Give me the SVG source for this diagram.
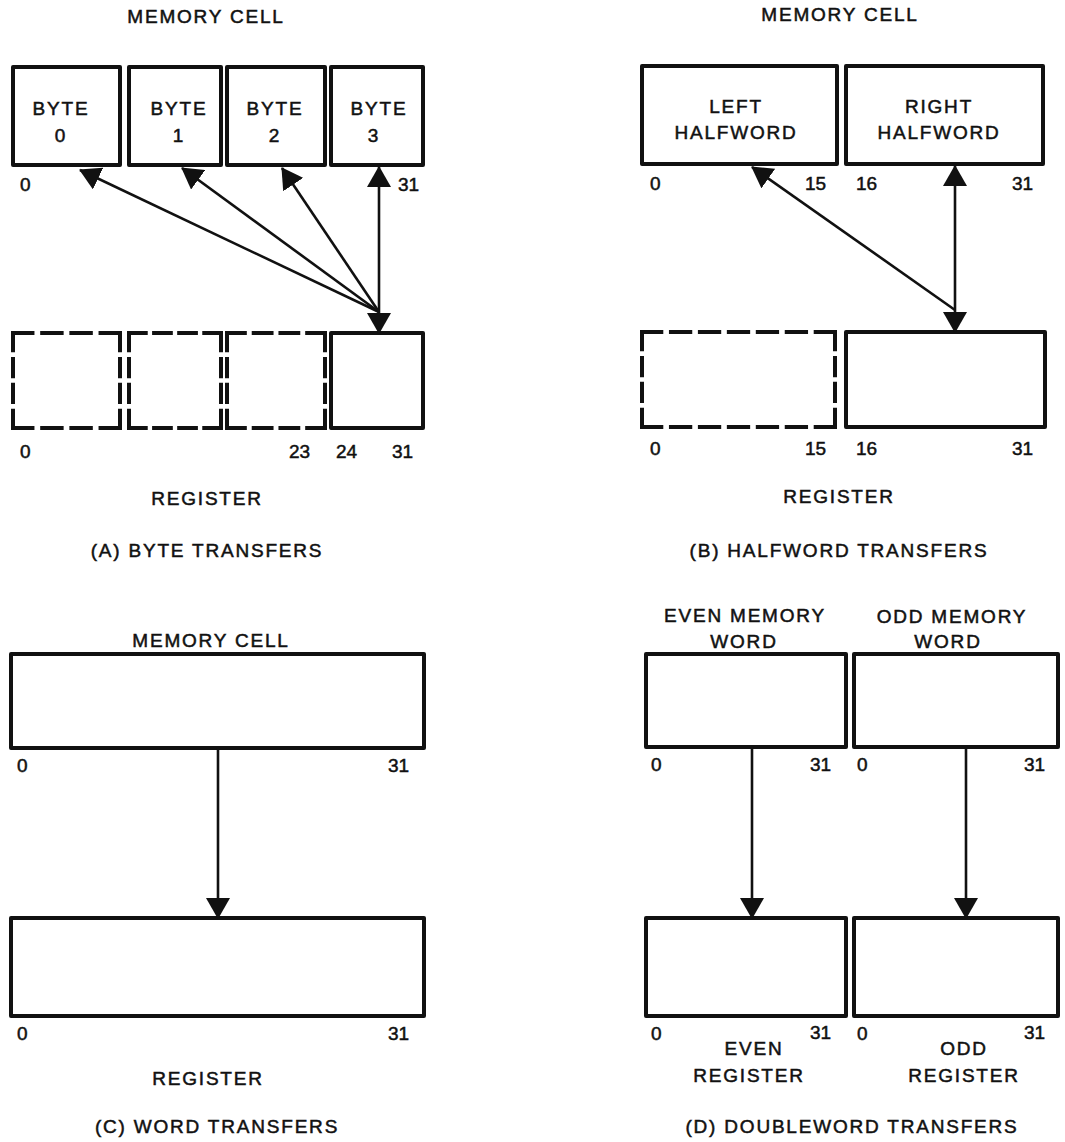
<svg xmlns="http://www.w3.org/2000/svg" width="1065" height="1142" viewBox="0 0 1065 1142">
<defs>
<marker id="ah" markerUnits="userSpaceOnUse" viewBox="0 0 21 24" refX="20" refY="12" markerWidth="21" markerHeight="24" orient="auto-start-reverse">
<path d="M0,0 L21,12 L0,24 Z" fill="#111"/>
</marker>
</defs>
<style>
text{font-family:"Liberation Sans",Arial,Helvetica,sans-serif;font-size:19px;fill:#111;stroke:#111;stroke-width:0.5px;}
.t{letter-spacing:1.8px;text-anchor:middle;}
.n{letter-spacing:0;}
.box{fill:none;stroke:#111;stroke-width:4;stroke-linejoin:round;}
.dash{fill:none;stroke:#111;stroke-width:4;stroke-dasharray:2 1;stroke-linecap:square;}
.c{fill:none;stroke:#111;stroke-width:2.6;}
</style>
<rect width="1065" height="1142" fill="#fff" stroke="none"/>

<!-- Panel A -->
<g id="panelA">
<text class="t" x="206" y="23">MEMORY CELL</text>
<g id="byte0"><rect class="box" x="13" y="67" width="107" height="98"/><text class="t" x="61" y="115">BYTE</text><text class="t" x="61" y="142">0</text></g>
<g id="byte1"><rect class="box" x="129" y="67" width="92" height="98"/><text class="t" x="179" y="115">BYTE</text><text class="t" x="179" y="142">1</text></g>
<g id="byte2"><rect class="box" x="227" y="67" width="98" height="98"/><text class="t" x="275" y="115">BYTE</text><text class="t" x="275" y="142">2</text></g>
<g id="byte3"><rect class="box" x="331" y="67" width="92" height="98"/><text class="t" x="379" y="115">BYTE</text><text class="t" x="374" y="142">3</text></g>
<text class="n" x="20" y="191">0</text>
<text class="n" x="398" y="191">31</text>
<g id="regA0">
<path class="dash" pathLength="11" d="M13,333 H120"/><path class="dash" pathLength="11" d="M13,428 H120"/>
<path class="dash" pathLength="11" d="M13,333 V428"/><path class="dash" pathLength="11" d="M120,333 V428"/>
</g>
<g id="regA1">
<path class="dash" pathLength="11" d="M129,333 H221"/><path class="dash" pathLength="11" d="M129,428 H221"/>
<path class="dash" pathLength="11" d="M129,333 V428"/><path class="dash" pathLength="11" d="M221,333 V428"/>
</g>
<g id="regA2">
<path class="dash" pathLength="11" d="M227,333 H325"/><path class="dash" pathLength="11" d="M227,428 H325"/>
<path class="dash" pathLength="11" d="M227,333 V428"/><path class="dash" pathLength="11" d="M325,333 V428"/>
</g>
<g id="regA3"><rect class="box" x="331" y="333" width="92" height="95"/></g>
<text class="n" x="20" y="458">0</text>
<text class="n" x="289" y="458">23</text>
<text class="n" x="336" y="458">24</text>
<text class="n" x="392" y="458">31</text>
<text class="t" x="207" y="505">REGISTER</text>
<text class="t" x="207" y="557">(A) BYTE TRANSFERS</text>
</g>

<!-- Panel B -->
<g id="panelB">
<text class="t" x="840" y="21">MEMORY CELL</text>
<g id="lefthw"><rect class="box" x="642" y="66" width="195" height="98"/><text class="t" x="736" y="113">LEFT</text><text class="t" x="736" y="139">HALFWORD</text></g>
<g id="righthw"><rect class="box" x="846" y="66" width="197" height="98"/><text class="t" x="939" y="113">RIGHT</text><text class="t" x="939" y="139">HALFWORD</text></g>
<text class="n" x="650" y="190">0</text>
<text class="n" x="805" y="190">15</text>
<text class="n" x="856" y="190">16</text>
<text class="n" x="1012" y="190">31</text>
<g id="regB0">
<path class="dash" pathLength="20" d="M642,332 H835"/><path class="dash" pathLength="20" d="M642,427 H835"/>
<path class="dash" pathLength="11" d="M642,332 V427"/><path class="dash" pathLength="11" d="M835,332 V427"/>
</g>
<g id="regB1"><rect class="box" x="846" y="332" width="199" height="95"/></g>
<text class="n" x="650" y="455">0</text>
<text class="n" x="805" y="455">15</text>
<text class="n" x="856" y="455">16</text>
<text class="n" x="1012" y="455">31</text>
<text class="t" x="839" y="503">REGISTER</text>
<text class="t" x="839" y="557">(B) HALFWORD TRANSFERS</text>
</g>

<!-- Panel C -->
<g id="panelC">
<text class="t" x="211" y="647">MEMORY CELL</text>
<g id="memC"><rect class="box" x="11" y="654" width="413" height="94"/></g>
<text class="n" x="17" y="772">0</text>
<text class="n" x="388" y="772">31</text>
<g id="regC"><rect class="box" x="11" y="918" width="413" height="98"/></g>
<text class="n" x="17" y="1040">0</text>
<text class="n" x="388" y="1040">31</text>
<text class="t" x="208" y="1085">REGISTER</text>
<text class="t" x="217" y="1133">(C) WORD TRANSFERS</text>
</g>

<!-- Panel D -->
<g id="panelD">
<text class="t" x="745" y="622">EVEN MEMORY</text>
<text class="t" x="744" y="648">WORD</text>
<text class="t" x="952" y="623">ODD MEMORY</text>
<text class="t" x="948" y="648">WORD</text>
<g id="evenmem"><rect class="box" x="646" y="654" width="200" height="93"/></g>
<g id="oddmem"><rect class="box" x="854" y="654" width="204" height="93"/></g>
<text class="n" x="651" y="771">0</text>
<text class="n" x="810" y="771">31</text>
<text class="n" x="857" y="771">0</text>
<text class="n" x="1024" y="771">31</text>
<g id="evenreg"><rect class="box" x="646" y="918" width="200" height="98"/></g>
<g id="oddreg"><rect class="box" x="854" y="918" width="204" height="98"/></g>
<text class="n" x="651" y="1040">0</text>
<text class="n" x="810" y="1039">31</text>
<text class="n" x="857" y="1040">0</text>
<text class="n" x="1024" y="1039">31</text>
<text class="t" x="754" y="1055">EVEN</text>
<text class="t" x="749" y="1082">REGISTER</text>
<text class="t" x="964" y="1055">ODD</text>
<text class="t" x="964" y="1082">REGISTER</text>
<text class="t" x="852" y="1133">(D) DOUBLEWORD TRANSFERS</text>
</g>

<!-- Connectors -->
<g id="connectors">
<line class="c" x1="379" y1="333" x2="379" y2="167" marker-start="url(#ah)" marker-end="url(#ah)"/>
<line class="c" x1="379" y1="312" x2="80" y2="170" marker-end="url(#ah)"/>
<line class="c" x1="379" y1="312" x2="182" y2="168" marker-end="url(#ah)"/>
<line class="c" x1="379" y1="312" x2="282" y2="168" marker-end="url(#ah)"/>
<line class="c" x1="955" y1="332" x2="955" y2="166" marker-start="url(#ah)" marker-end="url(#ah)"/>
<line class="c" x1="955" y1="310" x2="752" y2="167" marker-end="url(#ah)"/>
<line class="c" x1="218" y1="748" x2="218" y2="918" marker-end="url(#ah)"/>
<line class="c" x1="752" y1="747" x2="752" y2="918" marker-end="url(#ah)"/>
<line class="c" x1="966" y1="747" x2="966" y2="918" marker-end="url(#ah)"/>
</g>
</svg>
